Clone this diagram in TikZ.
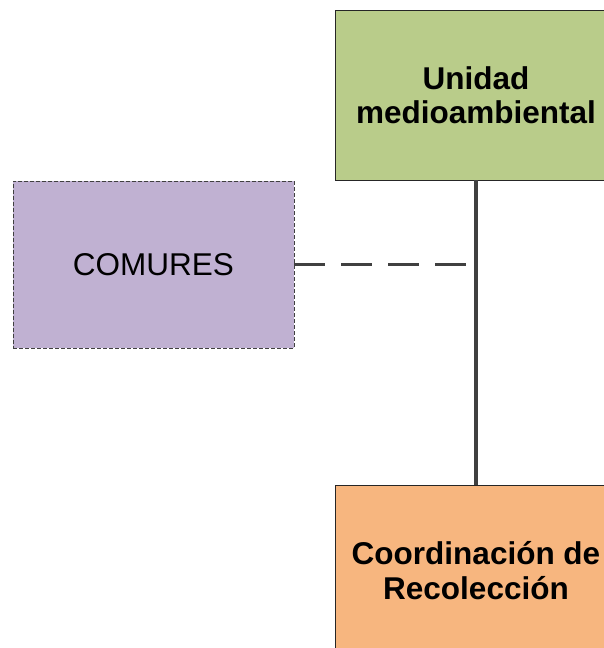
\documentclass[tikz,border=0pt]{standalone}
\usepackage{fontspec}
\setmainfont{Liberation Sans}
\definecolor{green1}{RGB}{185, 204, 138}
\definecolor{purple1}{RGB}{192, 177, 210}
\definecolor{orange1}{RGB}{247, 182, 127}
\definecolor{gray1}{RGB}{64, 64, 64}
\usepackage{tikz}
\usetikzlibrary{positioning, calc}

\tikzset{
  unitbox/.style={draw=black!85, line width=0.8pt, minimum width=282pt, minimum height=170pt,
    align=center, font=\fontsize{31.5}{34.5}\selectfont\bfseries, inner sep=0pt},
  link/.style={draw=gray1, line width=3.2pt}
}

\begin{document}
\begin{tikzpicture}
  \useasboundingbox (0,0) rectangle (604pt,648pt);

  % units
  \node[unitbox, fill=green1] (unidad) at (476pt,553pt) {Unidad\\medioambiental};
  \node[unitbox, fill=orange1, below=305pt of unidad] (recoleccion) {Coordinación de\\Recolección};
  \node[draw=gray1, line width=0.9pt, dash pattern=on 4pt off 2pt, fill=purple1,
    minimum width=281pt, minimum height=167pt, font=\fontsize{31.5}{35}\selectfont,
    inner sep=0pt] (comures) at (153.5pt,383.5pt) {COMURES};

  % connectors
  \coordinate (tap) at (comures.east -| unidad.south);
  \draw[link] (unidad.south) -- (recoleccion.north);
  \draw[link, dash pattern=on 31pt off 16pt] (comures.east) -- (tap);
\end{tikzpicture}
\end{document}
